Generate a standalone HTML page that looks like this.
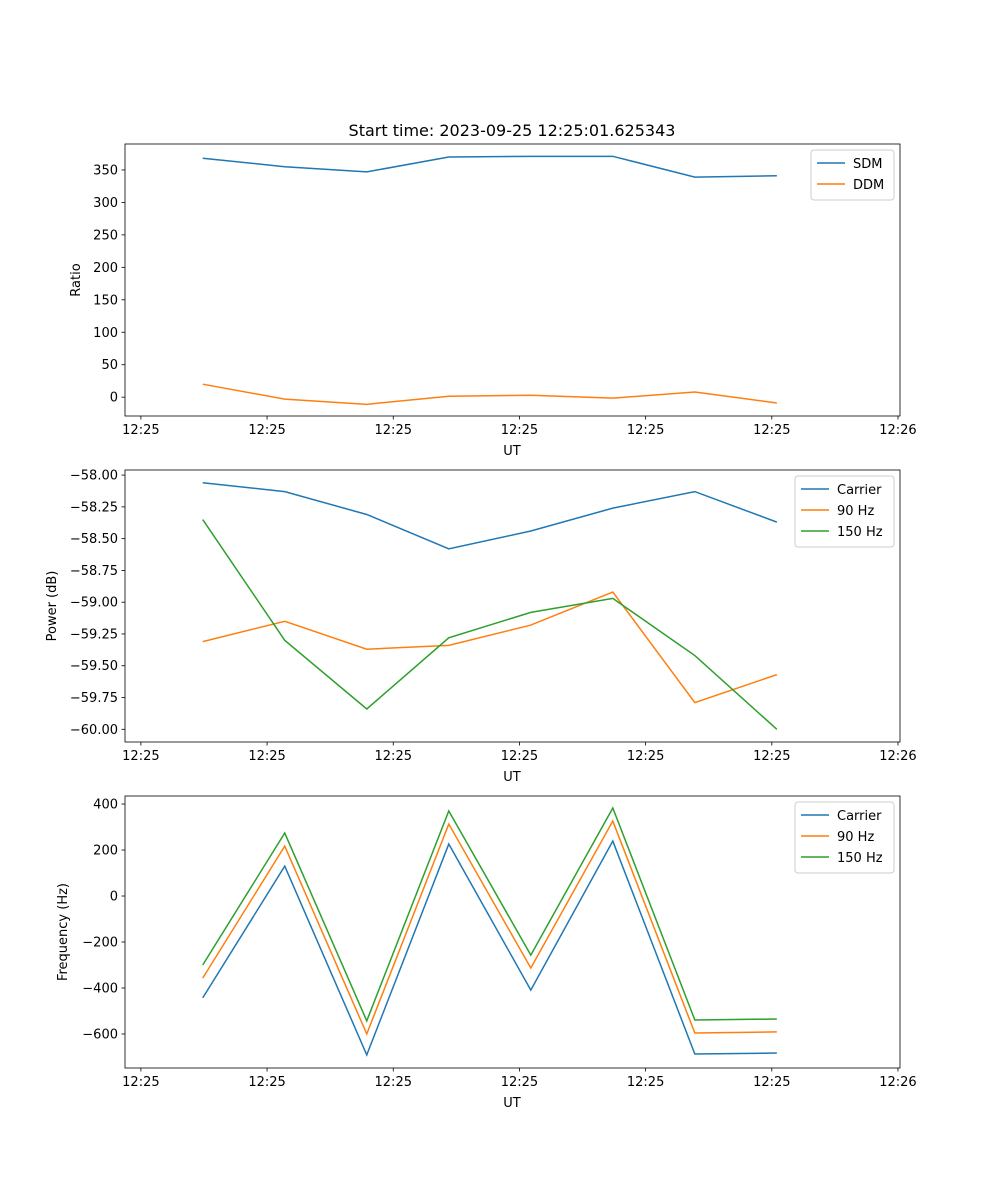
<!DOCTYPE html>
<html><head><meta charset="utf-8"><style>
body{margin:0;background:#fff}
svg{display:block;font-family:"DejaVu Sans","Liberation Sans",sans-serif}
</style></head><body>
<svg id="fig" width="1000" height="1200" xmlns="http://www.w3.org/2000/svg">
<rect width="1000" height="1200" fill="#fff"/>
<text x="512" y="136" font-size="16" text-anchor="middle">Start time: 2023-09-25 12:25:01.625343</text>
</svg>
<script>
// time in seconds after 12:25:00
const times = [4.9, 11.4, 17.9, 24.4, 30.9, 37.4, 43.9, 50.4];
const xTicks = [0, 10, 20, 30, 40, 50, 60];
const xTickLabels = ["12:25","12:25","12:25","12:25","12:25","12:25","12:26"];
const sdm = [368, 355, 347, 370, 371, 371, 339, 341];
const ddm = [20, -3, -11, 1.5, 3, -1.5, 8, -9];
const powCarrier = [-58.06, -58.13, -58.31, -58.58, -58.44, -58.26, -58.13, -58.37];
const pow90 = [-59.31, -59.15, -59.37, -59.34, -59.18, -58.92, -59.79, -59.57];
const pow150 = [-58.35, -59.30, -59.84, -59.28, -59.08, -58.97, -59.42, -60.00];
const frqCarrier = [-443, 130, -691, 226, -409, 239, -687, -683];
const frq90 = [-357, 217, -600, 313, -313, 326, -596, -591];
const frq150 = [-300, 274, -543, 370, -257, 383, -539, -535];
const ticks1 = [0, 50, 100, 150, 200, 250, 300, 350];
const ticks2 = [-60.00, -59.75, -59.50, -59.25, -59.00, -58.75, -58.50, -58.25, -58.00];
const ticks3 = [-600, -400, -200, 0, 200, 400];

const NS="http://www.w3.org/2000/svg";
const svg=document.getElementById('fig');
function el(t,a,txt){const e=document.createElementNS(NS,t);for(const k in a)e.setAttribute(k,a[k]);if(txt!==undefined)e.textContent=txt;svg.appendChild(e);return e;}
const L=125,R=900,xMin=-1.26,xMax=60.16;
const sx=v=>L+(v-xMin)/(xMax-xMin)*(R-L);
const C=['#1f77b4','#ff7f0e','#2ca02c'];

function panel(name,top,bot,yMin,yMax,yt,fmt,ylabel,series,labels,legW,ylabX){
  const sy=v=>bot-(v-yMin)/(yMax-yMin)*(bot-top);
  series.forEach((s,i)=>{
    const p=el('polyline',{points:s.map((v,j)=>sx(times[j])+','+sy(v)).join(' '),fill:'none',stroke:C[i],'stroke-width':1.5});
    
    
  });
  const f=el('rect',{x:L,y:top,width:R-L,height:bot-top,fill:'none',stroke:'#000','stroke-width':0.8});
  
  
  xTicks.forEach((t,i)=>{
    const x=sx(t);
    el('line',{x1:x,x2:x,y1:bot,y2:bot+3.5,stroke:'#000','stroke-width':0.8});
    const tx=el('text',{x:x,y:bot+18,'font-size':13,'text-anchor':'middle'},xTickLabels[i]);
    
    
  });
  yt.forEach(t=>{
    const y=sy(t);
    el('line',{x1:L,x2:L-3.5,y1:y,y2:y,stroke:'#000','stroke-width':0.8});
    const tx=el('text',{x:L-7,y:y+4.5,'font-size':13,'text-anchor':'end'},fmt(t).replace('-','\u2212'));
    
    
  });
  const xl=el('text',{x:512,y:bot+39,'font-size':13,'text-anchor':'middle'},'UT');
  
  
  const yl=el('text',{x:ylabX,y:(top+bot)/2,'font-size':13,'text-anchor':'middle',transform:`rotate(-90 ${ylabX} ${(top+bot)/2})`},ylabel);
  
  
  const lx=R-6-legW,ly=top+6,lh=labels.length*21+8;
  const lg=el('rect',{x:lx,y:ly,width:legW,height:lh,rx:3,fill:'#fff',stroke:'#ccc','stroke-width':1});
  
  
  labels.forEach((lb,i)=>{
    const y=ly+13+i*21;
    el('line',{x1:lx+6,x2:lx+34,y1:y,y2:y,stroke:C[i],'stroke-width':1.5});
    const t=el('text',{x:lx+42,y:y+5,'font-size':13},lb);
    
    
  });
}
panel('ratio',144,416,-29,390,ticks1,v=>String(v),'Ratio',[sdm,ddm],['SDM','DDM'],83,80);
panel('power',470,742,-60.10,-57.96,ticks2,v=>v.toFixed(2),'Power (dB)',[powCarrier,pow90,pow150],['Carrier','90 Hz','150 Hz'],99,56);
panel('frequency',796,1068,-748,435,ticks3,v=>String(v),'Frequency (Hz)',[frqCarrier,frq90,frq150],['Carrier','90 Hz','150 Hz'],99,67);
</script>
</body></html>
